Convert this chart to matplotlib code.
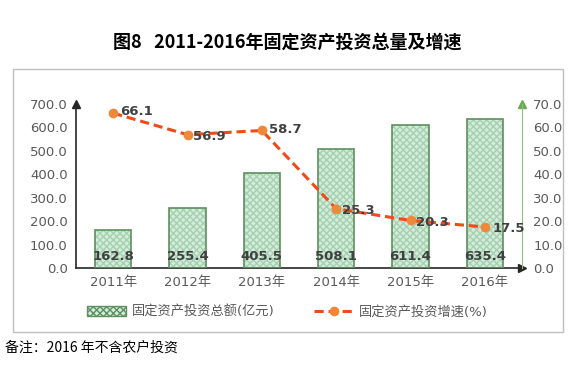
import matplotlib.pyplot as plt
from matplotlib.patches import Rectangle, Patch
from matplotlib.lines import Line2D

plt.rcParams['font.family'] = ['DejaVu Sans', 'Noto Sans CJK SC']

years = ["2011年", "2012年", "2013年", "2014年", "2015年", "2016年"]
total = [162.8, 255.4, 405.5, 508.1, 611.4, 635.4]
growth = [66.1, 56.9, 58.7, 25.3, 20.3, 17.5]

fig = plt.figure(figsize=(5.74, 3.66), dpi=100)

# chart frame
fig.patches.append(Rectangle((13 / 574, 1 - 332 / 366), (563 - 13) / 574, (332 - 69) / 366,
                             transform=fig.transFigure, fill=False, edgecolor="#bfbfbf", lw=1))

fig.text(0.5, 1 - 42 / 366, "图8   2011-2016年固定资产投资总量及增速", ha="center", va="center",
         fontsize=13, fontweight="bold", family=['Noto Sans CJK SC'])
fig.text(5 / 574, 1 - 348 / 366, "备注：2016 年不含农户投资", ha="left", va="center",
         fontsize=10, family=['Noto Sans CJK SC', 'DejaVu Sans'])

ax = fig.add_axes([76 / 574, 1 - 268 / 366, (522 - 76) / 574, (268 - 104) / 366])
ax2 = ax.twinx()

x = list(range(len(years)))
bar_color = "#d3ecdc"
ax.bar(x, total, width=0.49, color=bar_color, edgecolor="#a6d0b0", hatch="xxxxx", lw=0, zorder=2)
ax.bar(x, total, width=0.49, fill=False, edgecolor="#5e8f5e", lw=1.2, zorder=3)
for xi, v in zip(x, total):
    ax.text(xi, 50, f"{v:.1f}", ha="center", va="center", fontsize=9.5,
            fontweight="bold", color="#404040", zorder=5)

ax.set_xlim(-0.5, 5.5)
ax.set_ylim(0, 700)
ax.set_yticks(range(0, 701, 100))
ax.set_yticklabels([f"{v:.1f}" for v in range(0, 701, 100)])
ax.set_xticks(x)
ax.set_xticklabels(years)
ax.tick_params(length=0, labelsize=9.5, colors="#595959", pad=6)
for s in ["top", "right"]:
    ax.spines[s].set_visible(False)
ax.spines["left"].set_color("#262626")
ax.spines["bottom"].set_color("#262626")
ax.spines["left"].set_linewidth(1.2)
ax.spines["bottom"].set_linewidth(1.2)
ax.plot(0, 1, marker="^", color="#262626", ms=6, transform=ax.transAxes, clip_on=False)
ax.plot(1, 0, marker=">", color="#262626", ms=6, transform=ax.transAxes, clip_on=False, zorder=6)

ax2.plot(x, growth, color="#f04a18", lw=2.2, ls=(0, (3, 1.6)), marker="o", ms=6,
         mfc="#f0883a", mec="#f0883a", zorder=4)
offsets = [(0.1, 0.6), (0.08, -0.8), (0.1, 0.3), (0.08, -0.8), (0.08, -0.8), (0.1, -0.5)]
for xi, v, (dx, dy) in zip(x, growth, offsets):
    ax2.text(xi + dx, v + dy, f"{v:.1f}", ha="left", va="center", fontsize=9.5,
             fontweight="bold", color="#404040", zorder=6)
ax2.set_ylim(0, 70)
ax2.set_yticks(range(0, 71, 10))
ax2.set_yticklabels([f"{v:.1f}" for v in range(0, 71, 10)])
ax2.tick_params(length=0, labelsize=9.5, colors="#595959", pad=8)
for s in ["top", "left", "bottom"]:
    ax2.spines[s].set_visible(False)
ax2.spines["right"].set_color("#8fbf7a")
ax2.plot(1, 1, marker="^", color="#6aa84f", ms=6, transform=ax2.transAxes, clip_on=False)

handles = [Patch(facecolor=bar_color, edgecolor="#5e8f5e", hatch="xxxxx", lw=1),
           Line2D([0], [0], color="#f04a18", lw=2.2, ls=(0, (3, 1.6)), marker="o", ms=6,
                  mfc="#f0883a", mec="#f0883a")]
leg = fig.legend(handles, ["固定资产投资总额(亿元)", "固定资产投资增速(%)"], loc="center",
                 bbox_to_anchor=(0.5, 1 - 312 / 366), ncol=2, frameon=False,
                 handlelength=3, columnspacing=3, handletextpad=0.4,
                 prop={'family': ['DejaVu Sans', 'Noto Sans CJK SC'], 'size': 9.5})
for t in leg.get_texts():
    t.set_color("#595959")

fig.savefig("out.png", dpi=100)
